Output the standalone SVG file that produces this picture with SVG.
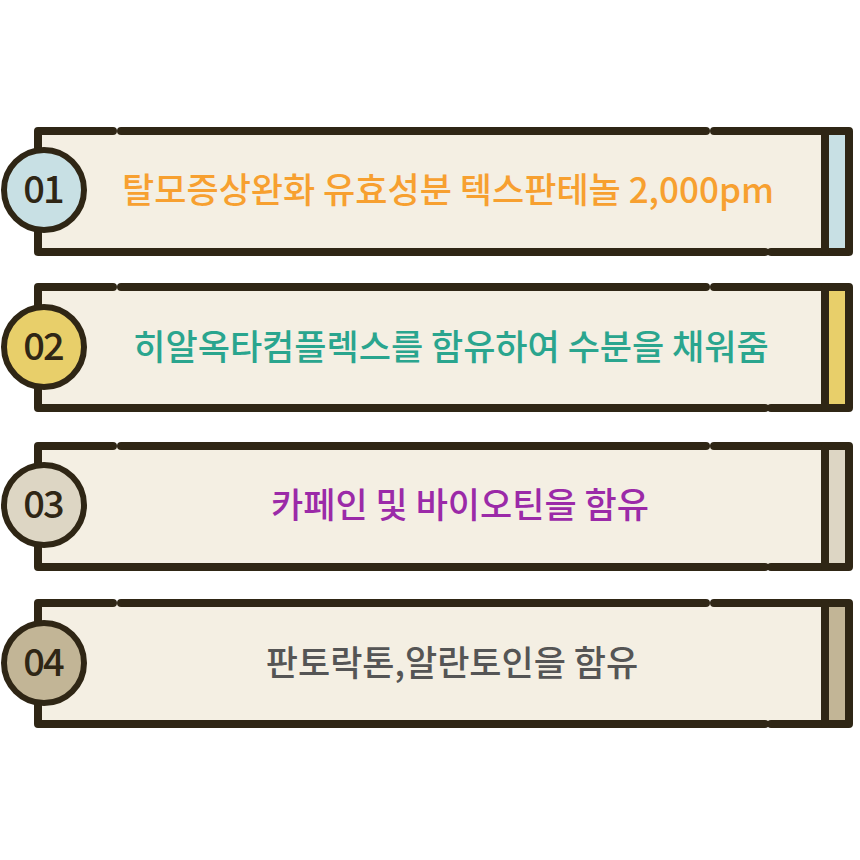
<svg xmlns="http://www.w3.org/2000/svg" width="860" height="860" viewBox="0 0 860 860">
<style>
.box{fill:#f4efe3}
.ln{fill:none;stroke:#2f2615;stroke-width:8;stroke-linecap:round;stroke-linejoin:round}
.cir{stroke:#2f2615;stroke-width:6}
.num{font-family:"Noto Sans CJK KR","Noto Sans",sans-serif;font-size:38px;font-weight:500;fill:#2f2615;text-anchor:middle;letter-spacing:-2px}
.lbl{font-family:"Noto Sans CJK KR","Noto Sans",sans-serif;font-size:35px;font-weight:500;text-anchor:middle}
</style>
<defs>
<g id="frame">
<rect class="box" x="38" y="0" width="814" height="121"/>
<path class="ln" d="M113,0 H38 V121 H765"/>
<path class="ln" d="M121,0 H706"/>
<path class="ln" d="M714,0 H849 V121 H771"/>
<line class="ln" x1="825" y1="0" x2="825" y2="121"/>
</g>
</defs>
<g id="node1" transform="translate(0,131)">
<use href="#frame"/><rect x="829" y="4" width="16" height="113" fill="#c8e0e4"/>
<circle class="cir" cx="44" cy="59" r="40" fill="#c8e0e4"/>
<text class="num" x="43" y="72">01</text>
<text class="lbl" x="448" y="72" fill="#f7a030">탈모증상완화 유효성분 텍스판테놀 2,000pm</text>
</g>
<g id="node2" transform="translate(0,287)">
<use href="#frame"/><rect x="829" y="4" width="16" height="113" fill="#e8cf6a"/>
<circle class="cir" cx="44" cy="60" r="40" fill="#e8cf6a"/>
<text class="num" x="43" y="73">02</text>
<text class="lbl" x="451" y="73" fill="#2aa58e">히알옥타컴플렉스를 함유하여 수분을 채워줌</text>
</g>
<g id="node3" transform="translate(0,446)">
<use href="#frame"/><rect x="829" y="4" width="16" height="113" fill="#ddd6c4"/>
<circle class="cir" cx="44" cy="59" r="40" fill="#ddd6c4"/>
<text class="num" x="43" y="72">03</text>
<text class="lbl" x="460" y="72" fill="#9b2aa8">카페인 및 바이오틴을 함유</text>
</g>
<g id="node4" transform="translate(0,603)">
<use href="#frame"/><rect x="829" y="4" width="16" height="113" fill="#c2b596"/>
<circle class="cir" cx="44" cy="60" r="40" fill="#c2b596"/>
<text class="num" x="43" y="73">04</text>
<text class="lbl" x="452" y="73" fill="#555555">판토락톤,알란토인을 함유</text>
</g>
<g id="connectors"/>
</svg>
